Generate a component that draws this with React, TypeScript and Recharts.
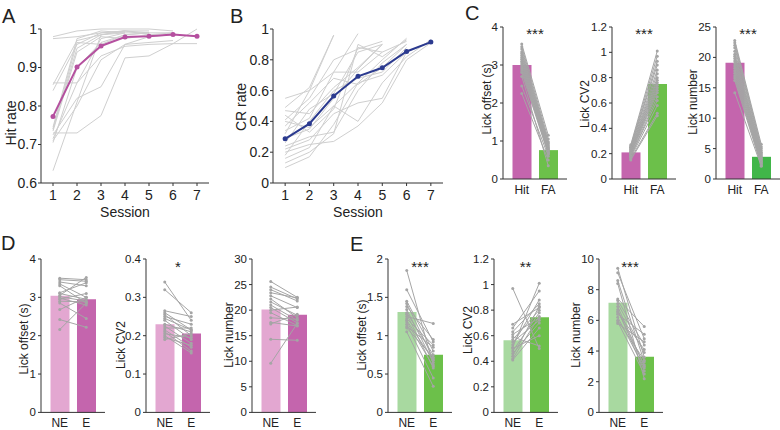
import { LineChart, Line, XAxis, YAxis, ComposedChart, Bar, Cell } from "recharts";

const FONT = '"Liberation Sans", Arial, sans-serif';
const AXIS = "#333";
const TXT = "#222";

// A / B: learning curves
const sessions = [1, 2, 3, 4, 5, 6, 7];
const hitRateMean = [0.773, 0.901, 0.956, 0.979, 0.981, 0.986, 0.981];
const hitRateMice = [
  [0.98, 0.995, 1.0, 1.0, 1.0, 0.995, null],
  [0.975, 0.98, 0.99, 0.995, 0.995, null, null],
  [0.86, 0.86, 0.975, 0.99, 0.99, 0.99, null],
  [0.855, 0.97, 0.985, 0.99, null, null, null],
  [0.84, 0.96, 0.99, 0.995, 0.985, null, null],
  [0.745, 0.975, 0.995, 0.99, null, null, null],
  [0.74, 0.965, 0.96, 0.985, 0.99, null, null],
  [0.735, 0.94, 0.98, 0.975, 0.985, 0.99, null],
  [0.73, 0.73, 0.775, 0.925, 0.93, 0.962, 0.962],
  [0.725, 0.82, 0.85, 0.96, 0.965, 0.97, null],
  [0.715, 0.86, 0.93, 0.955, 0.96, 0.962, 1.0],
  [0.71, 0.8, 0.92, 0.96, 0.98, 0.985, null],
  [0.705, 0.9, 0.965, 0.985, 0.99, null, null],
  [0.632, 0.81, 0.985, 0.995, 0.99, null, null],
  [0.74, 0.95, 0.985, 0.995, null, null, null],
];
const crRateMean = [0.287, 0.385, 0.565, 0.693, 0.748, 0.854, 0.915];
const crRateMice = [
  [0.55, 0.6, 0.72, 0.97, null, null, null],
  [0.49, 0.62, 0.96, null, null, null, null],
  [0.47, 0.45, 0.62, 0.75, 0.9, null, null],
  [0.41, 0.55, 0.8, 0.87, 0.92, null, null],
  [0.4, 0.36, 0.5, 0.65, 0.8, 0.94, null],
  [0.34, 0.42, 0.72, 0.72, 0.85, 0.92, null],
  [0.32, 0.6, 0.96, null, null, null, null],
  [0.26, 0.48, 0.58, 0.85, 0.9, null, null],
  [0.24, 0.3, 0.33, 0.6, 0.78, 0.9, null],
  [0.22, 0.28, 0.45, 0.52, 0.55, 0.85, 0.92],
  [0.2, 0.25, 0.27, 0.37, 0.52, 0.8, 0.91],
  [0.18, 0.4, 0.6, 0.68, 0.72, 0.88, null],
  [0.16, 0.23, 0.5, 0.4, 0.65, 0.82, 0.93],
  [0.13, 0.2, 0.32, 0.9, 0.82, 0.93, null],
  [0.1, 0.17, 0.38, 0.65, 0.7, 0.85, null],
  [0.29, 0.35, 0.55, 0.74, 0.9, null, null],
  [0.37, 0.52, 0.68, 0.64, 0.75, 0.9, null],
  [0.44, 0.33, 0.48, 0.88, 0.85, null, null],
];

// C: Hit vs FA
const hitFa = ["Hit", "FA"];
const cOffsetMean = [3.0, 0.76];
const cOffsetHit = [3.55, 3.48, 3.42, 3.35, 3.3, 3.25, 3.2, 3.15, 3.1, 3.05, 3.0, 2.95, 2.9, 2.85, 2.8, 2.45, 2.25, 2.7];
const cOffsetFa = [1.15, 1.05, 0.98, 0.95, 0.92, 0.88, 0.85, 0.82, 0.8, 0.78, 0.75, 0.72, 0.7, 0.68, 0.65, 0.6, 0.5, 0.35];
const cCvMean = [0.21, 0.75];
const cCvHit = [0.27, 0.26, 0.25, 0.25, 0.24, 0.23, 0.23, 0.22, 0.21, 0.21, 0.2, 0.2, 0.19, 0.18, 0.18, 0.17, 0.16, 0.15];
const cCvFa = [1.01, 0.97, 0.93, 0.9, 0.86, 0.83, 0.8, 0.78, 0.76, 0.74, 0.72, 0.7, 0.68, 0.65, 0.62, 0.58, 0.52, 0.5];
const cNumMean = [19.1, 3.65];
const cNumHit = [22.8, 22.4, 22.0, 21.6, 21.0, 20.5, 20.2, 19.8, 19.4, 19.0, 18.6, 18.2, 17.8, 17.4, 17.0, 16.6, 16.2, 14.2];
const cNumFa = [5.7, 5.3, 5.0, 4.7, 4.4, 4.2, 4.0, 3.8, 3.6, 3.4, 3.2, 3.0, 2.9, 2.7, 2.6, 2.4, 2.2, 2.1];

// D / E: NE vs E  (pairs are [NE, E])
const neE = ["NE", "E"];
const dOffsetMean = [3.04, 2.95];
const dOffsetPairs = [
  [3.5, 3.46], [3.46, 3.42], [3.4, 3.3], [3.35, 3.0], [3.3, 2.85], [3.12, 3.38], [3.1, 2.95], [3.05, 3.52],
  [3.02, 2.9], [2.98, 2.8], [2.95, 3.1], [2.9, 2.88], [2.85, 2.45], [2.68, 3.0], [2.42, 2.22], [2.16, 2.85],
];
const dCvMean = [0.23, 0.206];
const dCvPairs = [
  [0.34, 0.24], [0.32, 0.26], [0.265, 0.25], [0.26, 0.215], [0.255, 0.2], [0.25, 0.23], [0.245, 0.215], [0.24, 0.19],
  [0.23, 0.21], [0.225, 0.18], [0.22, 0.22], [0.215, 0.17], [0.21, 0.16], [0.205, 0.195], [0.2, 0.155], [0.195, 0.175], [0.19, 0.205],
];
const dNumMean = [20.1, 19.1];
const dNumPairs = [
  [25.6, 22.5], [24.5, 22.2], [24.0, 21.8], [23.4, 22.4], [22.8, 20.5], [22.2, 18.5], [21.6, 19.0], [21.0, 18.0],
  [20.5, 17.5], [20.0, 20.6], [19.5, 17.0], [18.5, 18.2], [17.6, 16.9], [17.3, 19.2], [14.3, 14.1], [9.6, 17.4],
];
const eOffsetMean = [1.31, 0.75];
const eOffsetPairs = [
  [1.85, 0.62], [1.6, 0.92], [1.45, 0.8], [1.42, 0.7], [1.38, 0.95], [1.34, 0.65], [1.3, 0.75], [1.28, 0.58],
  [1.25, 1.16], [1.22, 0.88], [1.2, 0.68], [1.18, 0.6], [1.15, 0.45], [1.12, 0.85], [1.1, 0.72], [1.05, 0.34],
];
const eCvMean = [0.565, 0.745];
const eCvPairs = [
  [0.97, 0.5], [0.69, 0.82], [0.66, 0.95], [0.63, 0.85], [0.61, 0.74], [0.59, 0.52], [0.57, 0.8], [0.55, 0.72],
  [0.53, 0.88], [0.51, 1.01], [0.5, 0.6], [0.48, 0.78], [0.46, 0.7], [0.44, 0.83], [0.42, 0.75], [0.41, 0.66],
];
const eNumMean = [7.15, 3.63];
const eNumPairs = [
  [9.4, 3.6], [9.1, 4.8], [8.6, 3.3], [8.4, 2.2], [7.4, 5.6], [7.3, 4.4], [7.1, 3.9], [6.9, 3.0],
  [6.7, 2.7], [6.5, 4.1], [6.4, 5.1], [6.2, 2.9], [6.0, 3.4], [5.9, 2.5], [5.8, 4.6], [6.6, 3.1],
];

const MAGENTA = "#c465ad";
const GREEN = "#6cc04a";

function LearningChart({ left, plotW, mean, mice, color, domain, ticks }: any) {
  const rows = sessions.map((s, i) => {
    const row: any = { session: s, mean: mean[i] };
    mice.forEach((m: any[], j: number) => (row["m" + j] = m[i]));
    return row;
  });
  return (
    <div style={{ position: "absolute", left, top: 0 }}>
      <LineChart width={41 + plotW + 6} height={220} data={rows} margin={{ top: 29, right: 6, left: 0, bottom: 0 }}>
        <XAxis
          dataKey="session"
          type="number"
          domain={[0.5, 7.5]}
          ticks={sessions}
          tickSize={3}
          tickMargin={4}
          height={37}
          stroke={AXIS}
          tick={{ fill: TXT, fontSize: 14 }}
          label={{ value: "Session", position: "insideBottom", offset: 3, fill: TXT, fontSize: 14 }}
        />
        <YAxis type="number" domain={domain} ticks={ticks} width={41} tickSize={3} tickMargin={1} stroke={AXIS} tick={{ fill: TXT, fontSize: 14 }} />
        {mice.map((_: any, j: number) => (
          <Line key={j} dataKey={"m" + j} stroke="#cfcfcf" strokeWidth={1} dot={false} isAnimationActive={false} />
        ))}
        <Line dataKey="mean" stroke={color} strokeWidth={2} dot={{ r: 2.5, fill: color, stroke: color, strokeWidth: 0 }} isAnimationActive={false} />
      </LineChart>
    </div>
  );
}

function PairBars({ x0, yTop, yBot, max, ticks, cats, means, pairs, colors }: any) {
  const data = cats.map((c: string, i: number) => {
    const row: any = { cat: c, mean: means[i] };
    pairs.forEach((p: number[], j: number) => (row["p" + j] = p[i]));
    return row;
  });
  const h = yBot - yTop;
  return (
    <div style={{ position: "absolute", left: x0 - 40, top: yTop - 10 }}>
      <ComposedChart width={110} height={h + 32} data={data} margin={{ top: 10, right: 6, left: 0, bottom: 0 }}>
        <XAxis
          dataKey="cat"
          padding={{ left: 5.5, right: 5.5 }}
          tickLine={false}
          tickSize={0}
          tickMargin={6}
          height={22}
          stroke={AXIS}
          tick={{ fill: TXT, fontSize: 12 }}
        />
        <YAxis type="number" domain={[0, max]} ticks={ticks} width={40} tickSize={3} tickMargin={2} stroke={AXIS} tick={{ fill: TXT, fontSize: 11.5 }} />
        <Bar dataKey="mean" barSize={19} isAnimationActive={false}>
          {data.map((_: any, i: number) => (
            <Cell key={i} fill={colors[i]} />
          ))}
        </Bar>
        {pairs.map((_: any, j: number) => (
          <Line
            key={j}
            dataKey={"p" + j}
            stroke="#a5a5a5"
            strokeWidth={1}
            dot={{ r: 1.5, fill: "#a5a5a5", stroke: "none" }}
            isAnimationActive={false}
          />
        ))}
      </ComposedChart>
    </div>
  );
}

function zip(a: number[], b: number[]) {
  return a.map((v, i) => [v, b[i]]);
}

function VTitle({ x, y, text, size = 12 }: any) {
  return (
    <div
      style={{
        position: "absolute",
        left: x,
        top: y,
        transform: "translate(-50%, -50%) rotate(-90deg)",
        whiteSpace: "nowrap",
        fontSize: size,
        lineHeight: 1,
        color: TXT,
      }}
    >
      {text}
    </div>
  );
}

function Txt({ x, y, text, size, center }: any) {
  return (
    <div
      style={{
        position: "absolute",
        left: x,
        top: y,
        fontSize: size,
        lineHeight: 1,
        color: TXT,
        whiteSpace: "nowrap",
        transform: center ? "translateX(-50%)" : undefined,
      }}
    >
      {text}
    </div>
  );
}

const C_TOP = 27, C_BOT = 179, D_TOP = 259.3, D_BOT = 412.7;

export default function App() {
  return (
    <div style={{ position: "absolute", left: 0, top: 0, width: 780, height: 430, background: "#fff", fontFamily: FONT, overflow: "hidden" }}>
      <LearningChart left={0} plotW={168} mean={hitRateMean} mice={hitRateMice} color="#b5509f" domain={[0.6, 1]} ticks={[0.6, 0.7, 0.8, 0.9, 1]} />
      <LearningChart left={232} plotW={170} mean={crRateMean} mice={crRateMice} color="#2b3a8f" domain={[0, 1]} ticks={[0, 0.2, 0.4, 0.6, 0.8, 1]} />

      <PairBars x0={503} yTop={C_TOP} yBot={C_BOT} max={4} ticks={[0, 1, 2, 3, 4]} cats={hitFa} means={cOffsetMean} pairs={zip(cOffsetHit, cOffsetFa)} colors={[MAGENTA, GREEN]} />
      <PairBars x0={612} yTop={C_TOP} yBot={C_BOT} max={1.2} ticks={[0, 0.2, 0.4, 0.6, 0.8, 1, 1.2]} cats={hitFa} means={cCvMean} pairs={zip(cCvHit, cCvFa)} colors={[MAGENTA, GREEN]} />
      <PairBars x0={716} yTop={C_TOP} yBot={C_BOT} max={25} ticks={[0, 5, 10, 15, 20, 25]} cats={hitFa} means={cNumMean} pairs={zip(cNumHit, cNumFa)} colors={[MAGENTA, "#41b649"]} />

      <PairBars x0={41} yTop={D_TOP} yBot={D_BOT} max={4} ticks={[0, 1, 2, 3, 4]} cats={neE} means={dOffsetMean} pairs={dOffsetPairs} colors={["#e3a7d1", MAGENTA]} />
      <PairBars x0={146} yTop={D_TOP} yBot={D_BOT} max={0.4} ticks={[0, 0.1, 0.2, 0.3, 0.4]} cats={neE} means={dCvMean} pairs={dCvPairs} colors={["#e3a7d1", MAGENTA]} />
      <PairBars x0={252} yTop={D_TOP} yBot={D_BOT} max={30} ticks={[0, 5, 10, 15, 20, 25, 30]} cats={neE} means={dNumMean} pairs={dNumPairs} colors={["#e3a7d1", MAGENTA]} />

      <PairBars x0={388} yTop={D_TOP} yBot={D_BOT} max={2} ticks={[0, 0.5, 1, 1.5, 2]} cats={neE} means={eOffsetMean} pairs={eOffsetPairs} colors={["#a8d9a0", GREEN]} />
      <PairBars x0={493.5} yTop={D_TOP} yBot={D_BOT} max={1.2} ticks={[0, 0.2, 0.4, 0.6, 0.8, 1, 1.2]} cats={neE} means={eCvMean} pairs={eCvPairs} colors={["#a8d9a0", GREEN]} />
      <PairBars x0={599} yTop={D_TOP} yBot={D_BOT} max={10} ticks={[0, 2, 4, 6, 8, 10]} cats={neE} means={eNumMean} pairs={eNumPairs} colors={["#a8d9a0", GREEN]} />

      <VTitle x={11} y={123} text="Hit rate" size={14} />
      <VTitle x={241} y={107} text="CR rate" size={14} />
      <VTitle x={487} y={99} text="Lick offset (s)" />
      <VTitle x={584.5} y={104} text="Lick CV2" />
      <VTitle x={693} y={102} text="Lick number" />
      <VTitle x={24} y={339} text="Lick offset (s)" />
      <VTitle x={120.5} y={345} text="Lick CV2" />
      <VTitle x={229} y={335} text="Lick number" />
      <VTitle x={362} y={335} text="Lick offset (s)" />
      <VTitle x={468} y={330} text="Lick CV2" />
      <VTitle x={576} y={335} text="Lick number" />

      <Txt x={535} y={26} text="***" size={15} center />
      <Txt x={644} y={26} text="***" size={15} center />
      <Txt x={748} y={26} text="***" size={15} center />
      <Txt x={178} y={258.5} text="*" size={15} center />
      <Txt x={420} y={259} text="***" size={15} center />
      <Txt x={525.5} y={259} text="**" size={15} center />
      <Txt x={630} y={259} text="***" size={15} center />

      <Txt x={2} y={6} text="A" size={20} />
      <Txt x={230} y={6} text="B" size={20} />
      <Txt x={465} y={3} text="C" size={20} />
      <Txt x={1} y={233} text="D" size={20} />
      <Txt x={350} y={234} text="E" size={20} />
    </div>
  );
}
